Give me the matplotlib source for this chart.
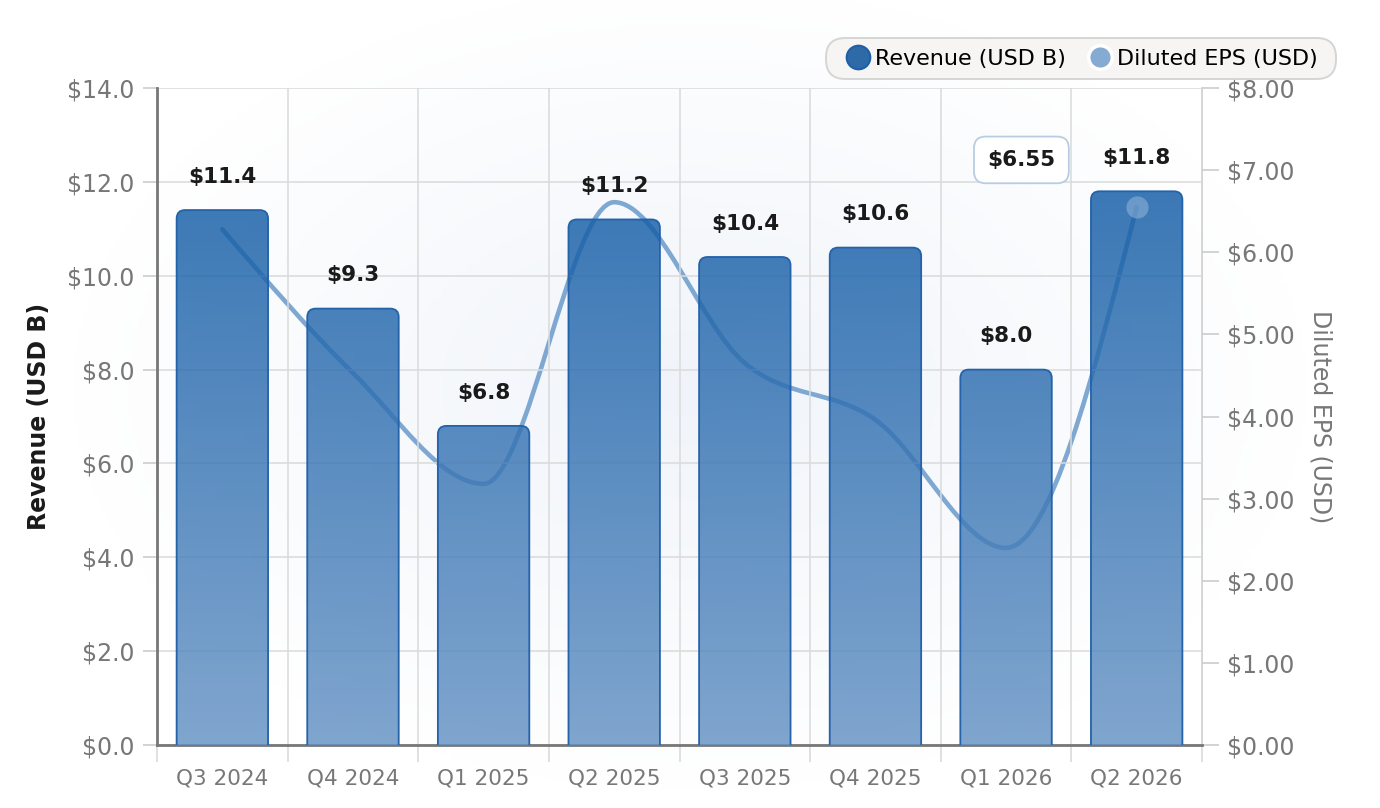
import numpy as np
import matplotlib
matplotlib.use("Agg")
import matplotlib.pyplot as plt
from matplotlib.patches import FancyBboxPatch
from matplotlib.path import Path
from matplotlib.patches import PathPatch
from matplotlib.colors import LinearSegmentedColormap
from matplotlib.lines import Line2D

quarters = ["Q3 2024", "Q4 2024", "Q1 2025", "Q2 2025", "Q3 2025", "Q4 2025", "Q1 2026", "Q2 2026"]
revenue = [11.4, 9.3, 6.8, 11.2, 10.4, 10.6, 8.0, 11.8]
eps = [6.28, 4.53, 3.18, 6.61, 4.65, 3.96, 2.40, 6.55]

rev_ticks = [0, 2, 4, 6, 8, 10, 12, 14]
eps_ticks = [0, 1, 2, 3, 4, 5, 6, 7, 8]

grey = "#777777"
bar_edge = "#2462aa"
line_col = "#7ea8d2"

W, H = 1380, 808
fig = plt.figure(figsize=(W / 100, H / 100), dpi=100)

# soft glow behind the plot
bg = fig.add_axes([0, 0, 1, 1], zorder=-10)
yy, xx = np.mgrid[0:1:200j, 0:1:300j]
d = np.sqrt(((xx - 0.5) / 0.45) ** 2 + ((yy - 0.52) / 0.5) ** 2)
glow = np.clip(1 - d, 0, 1)
glow_cmap = LinearSegmentedColormap.from_list("glow", ["#ffffff", "#f0f4fa"])
bg.imshow(glow, cmap=glow_cmap, extent=[0, 1, 0, 1], aspect="auto", origin="lower")
bg.set_xlim(0, 1)
bg.set_ylim(0, 1)
bg.axis("off")

ax = fig.add_axes([0.1138, 0.078, 0.7572, 0.813])
ax2 = ax.twinx()
ax.set_zorder(2)
ax2.set_zorder(1)
ax.patch.set_visible(False)
ax2.patch.set_visible(False)

x = np.arange(len(quarters))
ax.set_xlim(-0.5, len(quarters) - 0.5)
ax.set_ylim(0, 14)
ax2.set_ylim(0, 8)

# grid
ax.set_yticks(rev_ticks)
ax.set_yticklabels(["$%.1f" % v for v in rev_ticks])
ax.set_xticks(x)
ax.set_xticklabels(quarters)
ax.set_xticks(np.arange(-0.5, len(quarters)), minor=True)
ax.grid(axis="y", color="#dadada", linewidth=1.1, zorder=0)
ax.grid(axis="x", which="minor", color="#dadada", linewidth=1.1, zorder=0)
ax.set_axisbelow(True)

ax.tick_params(axis="y", colors="#cccccc", labelcolor=grey, labelsize=17, length=10, width=1.2, pad=6)
ax.tick_params(axis="x", which="major", length=0, labelcolor=grey, labelsize=15.5, pad=17)
ax.tick_params(axis="x", which="minor", length=12, color="#dadada", width=1.2)

ax2.set_yticks(eps_ticks)
ax2.set_yticklabels(["$%.2f" % v for v in eps_ticks])
ax2.tick_params(axis="y", colors="#cccccc", labelcolor=grey, labelsize=17, length=12, width=1.2, pad=6)

for a in (ax, ax2):
    a.spines["top"].set_visible(False)
ax.spines["left"].set_color("#777777")
ax.spines["left"].set_linewidth(2)
ax.spines["bottom"].set_color("#777777")
ax.spines["bottom"].set_linewidth(2)
ax.spines["right"].set_visible(False)
ax2.spines["left"].set_visible(False)
ax2.spines["bottom"].set_visible(False)
ax2.spines["right"].set_color("#cccccc")
ax2.spines["right"].set_linewidth(1.2)

ax.set_ylabel("Revenue (USD B)", fontsize=17, fontweight="bold", color="#1a1a1a", labelpad=12)
ax2.set_ylabel("Diluted EPS (USD)", fontsize=17, color=grey, rotation=270, labelpad=27)

# EPS line, monotone cubic through the points
xs = x.astype(float)
ys = np.array(eps, dtype=float)
n = len(xs)
h = np.diff(xs)
s = np.diff(ys) / h
m = np.zeros(n)
for i in range(1, n - 1):
    p = (s[i - 1] * h[i] + s[i] * h[i - 1]) / (h[i - 1] + h[i])
    m[i] = (np.sign(s[i - 1]) + np.sign(s[i])) * min(abs(s[i - 1]), abs(s[i]), 0.5 * abs(p))
m[0] = (3 * s[0] - m[1]) / 2
m[-1] = (3 * s[-1] - m[-2]) / 2
verts = [(xs[0], ys[0])]
codes = [Path.MOVETO]
for i in range(n - 1):
    dx = h[i] / 3
    verts += [(xs[i] + dx, ys[i] + dx * m[i]), (xs[i + 1] - dx, ys[i + 1] - dx * m[i + 1]), (xs[i + 1], ys[i + 1])]
    codes += [Path.CURVE4] * 3
ax2.add_patch(PathPatch(Path(verts, codes), facecolor="none", edgecolor=line_col,
                        linewidth=3.3, capstyle="round", joinstyle="round", zorder=3))

# bars with rounded tops and vertical gradient (semi transparent)
bar_cmap = LinearSegmentedColormap.from_list("bars", ["#6492c4", "#0f5aa5"])
grad = np.linspace(0, 1, 256).reshape(-1, 1)
width = 0.7
rad = 0.065
aspect = (14 / 0.813 / 8.08) / (len(quarters) / 0.7572 / 13.8)
for xi, v in zip(x, revenue):
    box = FancyBboxPatch((xi - width / 2 + rad, -1 + rad * aspect), width - 2 * rad, v + 1 - 2 * rad * aspect,
                         boxstyle="round,pad=%f,rounding_size=%f" % (rad, rad),
                         mutation_aspect=aspect, facecolor="none", edgecolor=bar_edge,
                         linewidth=1.3, zorder=4)
    ax.add_patch(box)
    im = ax.imshow(grad, cmap=bar_cmap, extent=[xi - width / 2, xi + width / 2, 0, 12.0],
                   origin="lower", aspect="auto", alpha=0.82, zorder=3)
    im.set_clip_path(box)
    ax.annotate("$%.1f" % v, (xi, v), xytext=(0, 24), textcoords="offset points",
                ha="center", va="center", fontsize=15.5, fontweight="bold", color="#1a1a1a", zorder=6)

ax.set_xlim(-0.5, len(quarters) - 0.5)
ax.set_ylim(0, 14)

# highlight latest EPS
ax.plot([x[-1]], [eps[-1] * 14 / 8], "o", markersize=16, color="#9bbbdc", alpha=0.5,
        markeredgewidth=0, zorder=7)
ax.annotate("$%.2f" % eps[-1], (x[-1], eps[-1] * 14 / 8), xytext=(-83, 34), textcoords="offset points",
            ha="center", va="center", fontsize=15.5, fontweight="bold", color="#1a1a1a", zorder=8,
            bbox=dict(boxstyle="round,pad=0.62,rounding_size=0.55", facecolor="white", edgecolor="#b8cde3", linewidth=1.3))

# legend: rounded pill behind a frameless legend
lx0, lx1, ly0, ly1 = 826, 1336, 38, 79
pill = FancyBboxPatch((lx0 / W, 1 - ly1 / H), (lx1 - lx0) / W, (ly1 - ly0) / H,
                      boxstyle="round,pad=0,rounding_size=0.014", mutation_aspect=W / H,
                      transform=fig.transFigure, facecolor="#f6f5f3", edgecolor="#d5d5d5",
                      linewidth=1.4, zorder=5)
fig.add_artist(pill)
handles = [
    Line2D([], [], marker="o", linestyle="none", markersize=17, markerfacecolor="#2e6aa8",
           markeredgecolor="#1f5fa8", markeredgewidth=1.5, label="Revenue (USD B)"),
    Line2D([], [], marker="o", linestyle="none", markersize=17, markerfacecolor="#86abd3",
           markeredgecolor="white", markeredgewidth=2.5, label="Diluted EPS (USD)"),
]
leg = fig.legend(handles=handles, loc="center", bbox_to_anchor=((lx0 + lx1) / 2 / W + 0.001, 1 - (ly0 + ly1) / 2 / H),
                 ncol=2, fontsize=16, frameon=False, handletextpad=0.3, columnspacing=1.0,
                 borderpad=0, handlelength=1.0, borderaxespad=0)
leg.set_zorder(6)

fig.savefig("out.png", dpi=100)
